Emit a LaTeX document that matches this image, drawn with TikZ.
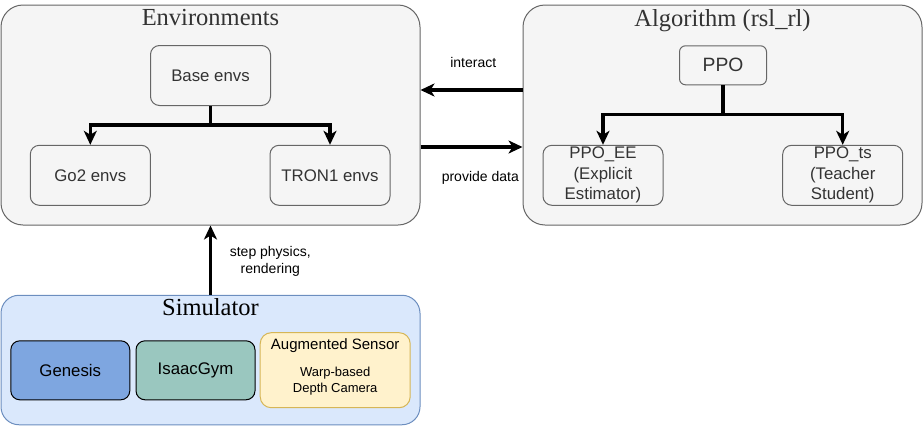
\documentclass[tikz,border=0pt]{standalone}
\usepackage{fontspec}
\setmainfont{Liberation Sans}
\newfontfamily\titlefont{Liberation Serif}
\usetikzlibrary{arrows.meta}
\definecolor{groupfill}{HTML}{F5F5F5}
\definecolor{groupline}{HTML}{666666}
\definecolor{textgrey}{HTML}{333333}
\definecolor{simfill}{HTML}{DAE8FC}
\definecolor{simline}{HTML}{6C8EBF}
\definecolor{genfill}{HTML}{7EA6E0}
\definecolor{gymfill}{HTML}{9AC7BF}
\definecolor{sensfill}{HTML}{FFF2CC}
\definecolor{sensline}{HTML}{D6B656}
\begin{document}
\begin{tikzpicture}[x=1pt, y=-1pt,
  groupbox/.style={draw=groupline, fill=groupfill, rounded corners=22pt, line width=1pt, inner sep=0pt},
  title/.style={font=\titlefont\fontsize{24.5}{28}\selectfont, text=textgrey, anchor=base},
  envbox/.style={draw=groupline, fill=groupfill, rounded corners=9pt, line width=1pt, minimum width=120pt, minimum height=60pt, inner sep=0pt, text=textgrey, font=\fontsize{16.8}{20.5}\selectfont, align=center},
  simbox/.style={draw=black, rounded corners=9pt, line width=1pt, minimum width=119pt, minimum height=59pt, inner sep=0pt, font=\fontsize{16.8}{20.5}\selectfont},
  flow/.style={line width=3.2pt, -{Stealth[length=14pt, width=13pt, inset=4pt]}},
  edgelabel/.style={font=\fontsize{14}{16.7}\selectfont, align=center}]
\useasboundingbox (0,0) rectangle (924,426);
% environments
\node[groupbox, minimum width=419pt, minimum height=220pt] (envs) at (210.5,115) {};
\node[title] (envstitle) at (210.5,25.7) {Environments};
\node[envbox] (base) at (210.5,75.5) {Base envs};
\node[envbox] (go2) at (90.3,175.3) {Go2 envs};
\node[envbox] (tron) at (330,175.3) {TRON1 envs};
% algorithm
\node[groupbox, minimum width=399pt, minimum height=220pt] (algo) at (722.5,115) {};
\node[title] (algotitle) at (722.5,26) {Algorithm (rsl\_rl)};
\node[envbox, minimum width=87pt, minimum height=39pt, rounded corners=6pt, font=\fontsize{19.3}{23}\selectfont] (ppo) at (723,65.3) {PPO};
\node[envbox] (ppoee) at (603,175.3) {PPO\_EE\\(Explicit\\Estimator)};
\node[envbox] (ppots) at (842.7,175.3) {PPO\_ts\\(Teacher\\Student)};
% simulator
\node[groupbox, draw=simline, fill=simfill, rounded corners=18pt, minimum width=419pt, minimum height=129.5pt] (sim) at (210.5,360) {};
\node[title, text=black] (simtitle) at (210.5,315) {Simulator};
\node[simbox, fill=genfill] (genesis) at (70.3,370.3) {Genesis};
\node[simbox, fill=gymfill] (isaacgym) at (195.5,370.3) {IsaacGym};
\node[simbox, draw=sensline, fill=sensfill, minimum width=150pt, minimum height=75pt, rounded corners=11pt] (sensor) at (335.2,370.2) {};
\node[font=\fontsize{15}{18}\selectfont] (sensortitle) at (335.2,346) {Augmented Sensor};
\node[font=\fontsize{13}{16}\selectfont, align=center] (warpcam) at (335.2,381.3) {Warp-based\\Depth Camera};
% arrows
\coordinate (envsplit) at (210.5,125);
\draw[flow] (base.south) -- (envsplit) -| (go2.north);
\draw[flow] (envsplit) -| (tron.north);
\coordinate (algosplit) at (723,114.3);
\draw[flow] (ppo.south) -- (algosplit) -| (ppoee.north);
\draw[flow] (algosplit) -| (ppots.north);
\draw[flow] ([yshift=25pt]algo.west) -- ([yshift=25pt]envs.east);
\draw[flow] ([yshift=-32pt]envs.east) -- ([yshift=-32pt]algo.west);
\draw[flow] (sim.north) -- (envs.south);
\node[edgelabel] (interactlbl) at (473.3,62.3) {interact};
\node[edgelabel] (providelbl) at (480.3,177.7) {provide data};
\node[edgelabel] (steplbl) at (270.3,261.7) {step physics,\\rendering};
\end{tikzpicture}
\end{document}
